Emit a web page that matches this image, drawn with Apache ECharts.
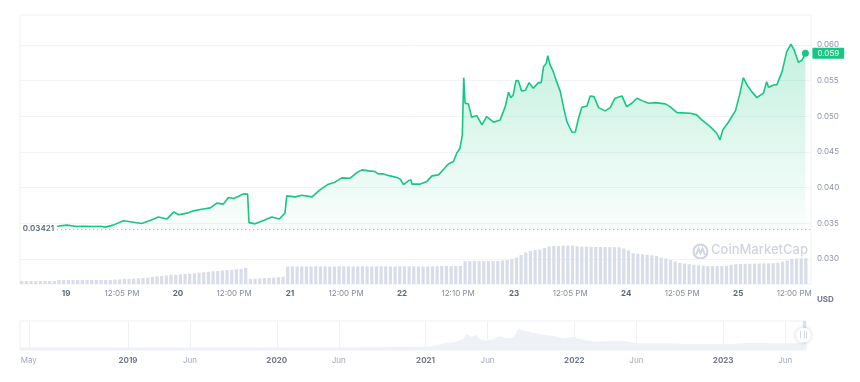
<!DOCTYPE html>
<html><head><meta charset="utf-8">
<script src="https://cdn.jsdelivr.net/npm/echarts@6/dist/echarts.min.js"></script>
<style>html,body{margin:0;padding:0;background:#fff}#c{width:860px;height:382px}</style>
</head><body><div id="c"></div>
<script>
// Hours since Jun 19 00:00
const priceHours = [-1.9,0.2,2.3,3.7,5.9,7.3,8.4,10.1,12.3,14.1,16.2,18.0,19.8,21.6,23.1,24.1,25.1,26.2,27.3,29.4,30.9,32.3,33.7,34.8,35.9,36.9,38.0,38.9,39.2,40.5,42.3,44.1,45.7,46.9,47.3,49.1,50.5,52.7,54.4,56.2,57.6,59.1,60.9,62.3,63.4,64.8,66.2,66.9,68.0,69.4,70.9,71.6,72.3,73.4,73.9,74.1,75.9,77.3,78.4,79.8,80.9,81.9,83.0,83.7,84.4,84.9,85.2,85.5,86.2,86.9,88.0,89.1,90.1,91.6,93.0,94.1,94.8,95.3,95.8,96.4,96.9,97.6,98.4,99.2,100.1,101.2,101.8,102.3,102.9,103.2,103.7,104.4,105.1,105.9,106.6,107.3,108.4,109.1,109.8,110.5,111.6,112.3,113.1,114.1,115.5,116.6,117.6,119.1,120.1,121.2,122.3,123.4,124.8,126.2,128.4,129.4,130.9,133.7,135.1,136.2,138.0,139.4,140.1,140.7,141.9,143.4,144.3,145.1,145.9,146.9,148.0,149.4,150.1,150.5,151.6,152.3,153.4,154.4,155.3,156.0,156.9,157.7,158.4];
const priceValues = [0.0346,0.03475,0.03456,0.0346,0.03455,0.0346,0.03447,0.03475,0.03536,0.0352,0.03498,0.0354,0.03588,0.0356,0.03661,0.0362,0.03633,0.03647,0.03675,0.037,0.03717,0.03783,0.0377,0.03862,0.03848,0.03876,0.03913,0.0391,0.0351,0.03493,0.0354,0.03588,0.0356,0.03643,0.03885,0.03871,0.03895,0.03871,0.0397,0.04049,0.04077,0.04137,0.04133,0.04211,0.0425,0.04236,0.04226,0.04193,0.04193,0.04165,0.04142,0.0412,0.04044,0.041,0.04108,0.0405,0.0405,0.04085,0.04165,0.04179,0.04259,0.04333,0.04366,0.04483,0.04553,0.0474,0.05542,0.05183,0.05174,0.04987,0.0501,0.0488,0.04996,0.04917,0.0495,0.05136,0.05338,0.05262,0.053,0.055,0.05498,0.05356,0.05365,0.05472,0.05393,0.05472,0.05472,0.05696,0.05743,0.0585,0.0572,0.05626,0.05486,0.05346,0.05122,0.04926,0.04777,0.0478,0.04973,0.05128,0.05146,0.05286,0.05276,0.05122,0.05076,0.05122,0.05254,0.05286,0.05136,0.05183,0.05254,0.0522,0.05183,0.05192,0.05174,0.05136,0.05052,0.05043,0.0502,0.0495,0.04856,0.04763,0.0467,0.0481,0.04917,0.05076,0.053,0.05542,0.0544,0.05346,0.05262,0.05324,0.05486,0.05408,0.0544,0.05444,0.05626,0.05906,0.0601,0.0593,0.05757,0.0579,0.05884];
const startPrice = 0.03421;
// Hourly volume (relative units), first bar at hour -9.5
const volumeStartHour = -9.5;
const volumeValues = [3,3,3,3,3,3,3,3,
 4,4,4,4,4,4,4,4,4,4,4,4,
 4.5,4.5,5,5,
 5.3,5.6,6,6.3,7,7.5,8,8.5,9,9.3,9.7,10,10.3,10.7,11.2,11.7,12.3,12.7,13,13.5,14,14.3,14.8,15.2,16,
 5,5.3,5.6,5.9,6.2,6.5,6.8,7.3,
 17.5,17.6,17.5,17.7,17.6,17.5,17.8,17.6,17.7,17.5,17.6,17.8,17.7,17.6,17.5,17.7,17.8,17.6,17.5,17.6,17.7,17.8,17.6,17.5,17.7,17.6,17.8,17.7,17.6,17.5,17.6,17.7,17.8,17.9,18,17.8,17.9,18,
 23,23,23,23,23,23,23,23,
 23.5,24,25,26.5,29,31.5,33,34,34.3,36,37.5,38,38,38.3,38.3,38.3,37.7,37.3,37.3,37,37,37,37,36.8,36.8,36.7,
 35.5,33.5,30.7,30.2,29.7,29.2,28.7,28,26.5,25.5,24,22.5,21,20.3,19.8,19.2,18.8,18.3,18,18,18,18,18.3,19.2,19.8,20,20.2,20.3,20.4,20.5,20.6,20.7,20.8,21.3,22.3,23.5,25,25.5,25.7,25.7];
const xTickHours = [0,12,24,36,48,60,72,84,96,108,120,132,144,156];
const xTickLabels = ['19','12:05 PM','20','12:00 PM','21','12:00 PM','22','12:10 PM','23','12:05 PM','24','12:05 PM','25','12:00 PM'];
const yTickValues = [0.030,0.035,0.040,0.045,0.050,0.055,0.060];
const currencyLabel = 'USD';
// Navigator: months since Jan 2019
const navMonths = [-8.7,0,12,20,24.35,25.7,26.5,27.0,27.3,27.7,28.1,28.4,28.9,29.5,29.9,30.5,31.1,31.5,31.9,32.7,33.5,34.3,35.1,35.9,36.7,37.8,39.1,39.9,41.0,43.2,45.9,48.5,50.4,51.8,53.9,54.68];
const navPrices = [0.022,0.022,0.022,0.024,0.029,0.064,0.073,0.094,0.141,0.117,0.132,0.094,0.082,0.094,0.123,0.103,0.112,0.188,0.170,0.152,0.132,0.123,0.103,0.117,0.088,0.073,0.079,0.082,0.059,0.059,0.050,0.053,0.064,0.059,0.059,0.059];
const navTickMonths = [-8,0,5,12,17,24,29,36,41,48,53];
const navTickLabels = ['May','2019','Jun','2020','Jun','2021','Jun','2022','Jun','2023','Jun'];
const navSelection = [54.42, 54.68];

const FONT = 'Inter, "Noto Sans", sans-serif';
const GREEN = '#16c784';
const chart = echarts.init(document.getElementById('c'), null, {renderer: 'canvas'});

const priceData = priceHours.map((h, i) => [h, priceValues[i]]);
const volumeData = volumeValues.map((v, i) => [volumeStartHour + i, v]);
const navData = navMonths.map((m, i) => [m, navPrices[i]]);
const last = priceData[priceData.length - 1];

const option = {
  animation: false,
  textStyle: {fontFamily: FONT},
  grid: [
    {left: 20, right: 49, top: 15, bottom: 98, show: true, borderColor: '#eff1f4', borderWidth: 1},
    {left: 20, right: 49, top: 240, bottom: 98},
    {left: 20, right: 54, top: 321, height: 29, show: true, borderColor: '#eceff3', borderWidth: 1}
  ],
  xAxis: [
    {type: 'value', gridIndex: 0, min: -9.86, max: 159.6,
     axisLine: {show: false}, axisTick: {show: false, customValues: xTickHours}, splitLine: {show: false},
     axisLabel: {customValues: xTickHours, margin: 6, fontFamily: FONT,
       formatter: v => { const i = xTickHours.indexOf(v); const s = xTickLabels[i];
         return s.indexOf(':') >= 0 ? '{t|' + s + '}' : '{d|' + s + '}'; },
       rich: {d: {fontSize: 8, fontWeight: 'bold', color: '#58667e', fontFamily: FONT},
              t: {fontSize: 8, color: '#858ca2', fontFamily: FONT}}}},
    {type: 'value', gridIndex: 1, min: -9.86, max: 159.6, show: false},
    {type: 'value', gridIndex: 2, min: -8.71, max: 54.68,
     axisLine: {show: false}, axisTick: {show: false, customValues: navTickMonths},
     splitLine: {show: true, lineStyle: {color: '#eef0f4', width: 1}},
     axisLabel: {customValues: navTickMonths, margin: 7, fontFamily: FONT,
       formatter: v => { const i = navTickMonths.indexOf(v); const s = navTickLabels[i];
         return /^\d+$/.test(s) ? '{y|' + s + '}' : '{m|' + s + '}'; },
       rich: {y: {fontSize: 8, fontWeight: 'bold', color: '#6f778b', fontFamily: FONT},
              m: {fontSize: 8, color: '#a1a8b9', fontFamily: FONT}}}}
  ],
  yAxis: [
    {type: 'value', gridIndex: 0, position: 'right', min: 0.0265, max: 0.0642,
     axisLine: {show: false}, axisTick: {show: false, customValues: yTickValues},
     splitLine: {show: true, lineStyle: {color: '#f2f3f6', width: 1}},
     axisLabel: {customValues: yTickValues, margin: 6, fontSize: 8, color: '#8a93a6', fontFamily: FONT,
       formatter: v => v.toFixed(3)}},
    {type: 'value', gridIndex: 1, min: 0, max: 44, show: false},
    {type: 'value', gridIndex: 2, min: 0, max: 0.255, show: false}
  ],
  series: [
    {type: 'bar', xAxisIndex: 1, yAxisIndex: 1, data: volumeData, barWidth: 3.2,
     itemStyle: {color: '#d8dde9'}, silent: true, z: 1},
    {type: 'line', xAxisIndex: 0, yAxisIndex: 0, data: priceData, showSymbol: false, z: 5,
     lineStyle: {color: GREEN, width: 1.6},
     areaStyle: {origin: startPrice,
       color: new echarts.graphic.LinearGradient(0, 0, 0, 1, [
         {offset: 0, color: 'rgba(22,199,132,0.36)'},
         {offset: 1, color: 'rgba(22,199,132,0.03)'}])},
     endLabel: {show: true, distance: 7, formatter: p => p.value[1].toFixed(3),
       backgroundColor: GREEN, color: '#fff', fontSize: 8, fontFamily: FONT, padding: [2, 5, 1, 5], borderRadius: 1},
     markLine: {silent: true, symbol: 'none', animation: false,
       lineStyle: {type: [1, 3], color: '#a7aec0', width: 1},
       label: {position: 'start', distance: 3, formatter: startPrice.toString(), fontSize: 8, fontWeight: 600, color: '#58667e', fontFamily: FONT},
       data: [[{coord: [priceHours[0], startPrice]}, {coord: [159.6, startPrice]}]]},
     markPoint: {silent: true, symbol: 'circle', symbolSize: 7, itemStyle: {color: GREEN}, label: {show: false},
       data: [{coord: last}]}},
    {type: 'line', xAxisIndex: 2, yAxisIndex: 2, data: navData, showSymbol: false, silent: true,
     lineStyle: {width: 0}, areaStyle: {color: '#eef1f5', opacity: 1},
     markArea: {silent: true, itemStyle: {color: 'rgba(190,203,235,0.55)'},
       data: [[{xAxis: navSelection[0], yAxis: 0}, {xAxis: navSelection[1], yAxis: 0.255}]]},
     markPoint: {silent: true, symbol: 'circle', symbolSize: 15,
       itemStyle: {color: '#fff', shadowBlur: 4, shadowColor: 'rgba(0,0,0,0.18)'},
       label: {show: true, formatter: '| ||', fontSize: 6, color: '#a6b0c3'},
       data: [{coord: [navSelection[0] + 0.05, 0.13]}]}}
  ],
  graphic: [
    {type: 'circle', shape: {cx: 700.5, cy: 251.5, r: 7}, style: {fill: 'none', stroke: '#ced5e0', lineWidth: 2}, silent: true},
    {type: 'polyline', shape: {points: [[696, 255], [698.5, 248.5], [700.5, 253.5], [702.5, 248.5], [705, 255]]}, style: {fill: 'none', stroke: '#ced5e0', lineWidth: 1.8}, silent: true},
    {type: 'text', left: 711, top: 244, silent: true,
     style: {text: 'CoinMarketCap', fill: '#ced5e0', font: '500 13px ' + FONT}},
    {type: 'text', left: 817, top: 296, silent: true,
     style: {text: currencyLabel, fill: '#6f778b', font: 'bold 8px ' + FONT}}
  ]
};
chart.setOption(option);
</script></body></html>
